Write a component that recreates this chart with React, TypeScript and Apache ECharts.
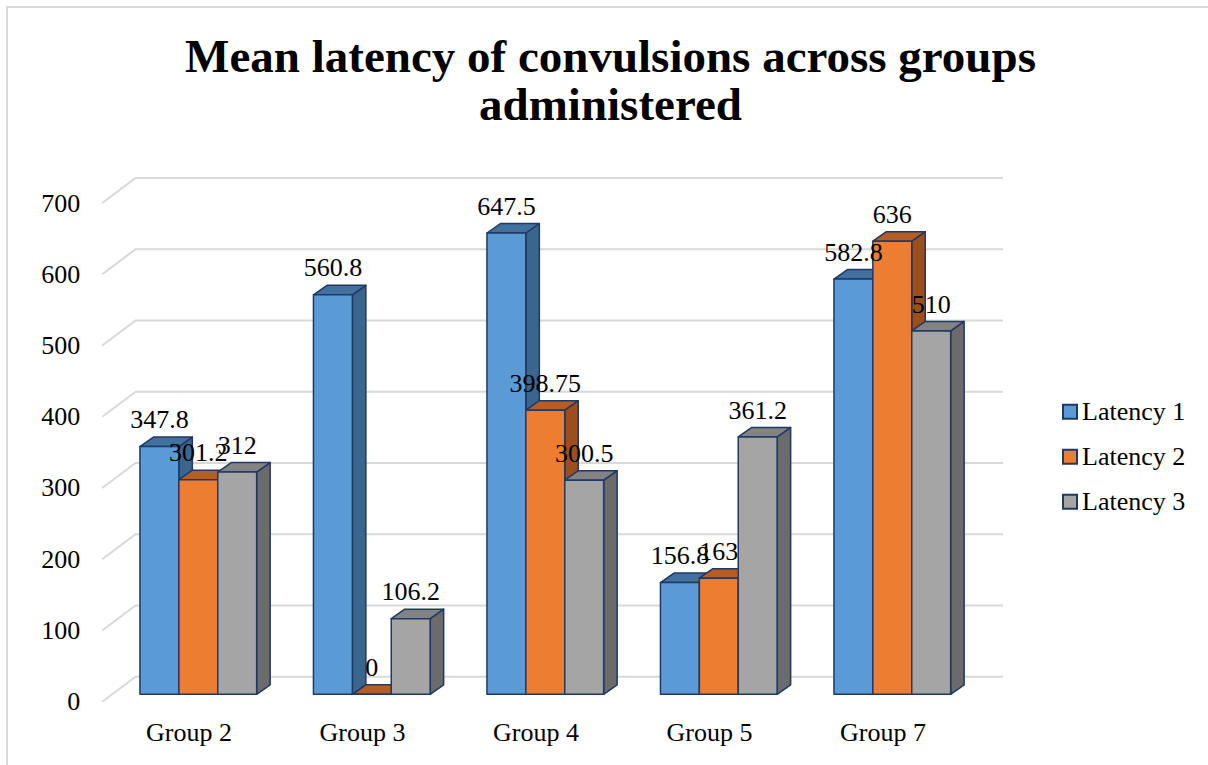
import React, { useEffect, useRef } from "react";
import * as echarts from "echarts";

const categories = ["Group 2", "Group 3", "Group 4", "Group 5", "Group 7"];
const seriesNames = ["Latency 1", "Latency 2", "Latency 3"];
const latency1 = [347.8, 560.8, 647.5, 156.8, 582.8];
const latency2 = [301.2, 0, 398.75, 163, 636];
const latency3 = [312, 106.2, 300.5, 361.2, 510];
const yTicks = [0, 100, 200, 300, 400, 500, 600, 700];

const allValues = [latency1, latency2, latency3];

const frontColors = ["#5B9BD5", "#ED7D31", "#A5A5A5"];
const topColors = ["#41719C", "#B55D25", "#838383"];
const sideColors = ["#3A668E", "#9C4F1C", "#6B6B6B"];
const outline = "#203864";
const FONT = "Liberation Serif";

const SHIFT_X = 9.3;
const SHIFT_Y = -7.4;
const DEPTH_X = 13.5;
const DEPTH_Y = -9.5;
const BAR_FRAC = 38.9 / 173.5;
const FLOOR_X = 33.3;
const FLOOR_Y = -25;

function barGeom(api: any, s: number) {
  const cat = api.value(0);
  const v = api.value(1);
  const base = api.coord([cat, 0]);
  const top = api.coord([cat, v]);
  const band = api.size([1, 0])[0];
  const w = band * BAR_FRAC;
  const x = base[0] - 1.5 * w + SHIFT_X + s * w;
  const yb = base[1] + SHIFT_Y;
  const yt = top[1] + SHIFT_Y;
  return { x, w, yb, yt };
}

function makeBarRender(s: number) {
  return (params: any, api: any) => {
    const { x, w, yb, yt } = barGeom(api, s);
    const strokeStyle = { stroke: outline, lineWidth: 1.5, lineJoin: "round" };
    return {
      type: "group",
      children: [
        {
          type: "polygon",
          shape: {
            points: [
              [x + w, yt],
              [x + w + DEPTH_X, yt + DEPTH_Y],
              [x + w + DEPTH_X, yb + DEPTH_Y],
              [x + w, yb],
            ],
          },
          style: { fill: sideColors[s], ...strokeStyle },
        },
        {
          type: "polygon",
          shape: {
            points: [
              [x, yt],
              [x + DEPTH_X, yt + DEPTH_Y],
              [x + w + DEPTH_X, yt + DEPTH_Y],
              [x + w, yt],
            ],
          },
          style: { fill: topColors[s], ...strokeStyle },
        },
        {
          type: "rect",
          shape: { x, y: yt, width: w, height: Math.max(0, yb - yt) },
          style: { fill: frontColors[s], ...strokeStyle },
        },
      ],
    };
  };
}

export default function App() {
  const ref = useRef<HTMLDivElement>(null);

  useEffect(() => {
    if (!ref.current) return;
    const chart = echarts.init(ref.current, undefined, { renderer: "svg" });

    const barSeries = allValues.map((vals, s) => ({
      name: seriesNames[s],
      type: "custom",
      z: 3 + s,
      itemStyle: { color: frontColors[s], borderColor: outline, borderWidth: 2 },
      encode: { x: 0, y: 1 },
      data: vals.map((v, i) => [i, v]),
      renderItem: makeBarRender(s),
    }));

    const labelData: any[] = [];
    allValues.forEach((vals, s) => vals.forEach((v, i) => labelData.push([i, v, s])));

    const option: any = {
      animation: false,
      backgroundColor: "#fff",
      textStyle: { fontFamily: FONT },
      graphic: [
        {
          type: "rect",
          shape: { x: 7, y: 7, width: 1300, height: 900 },
          style: { fill: "none", stroke: "#d9d9d9", lineWidth: 2 },
          silent: true,
          z: -1,
        },
        {
          type: "text",
          x: 610.5,
          y: 80,
          style: {
            text: "Mean latency of convulsions across groups\nadministered",
            align: "center",
            verticalAlign: "middle",
            fontSize: 47,
            lineHeight: 48,
            fontWeight: "bold",
            fontFamily: FONT,
            fill: "#000",
          },
        },
      ],
      legend: {
        data: seriesNames,
        orient: "vertical",
        left: 1057,
        top: 393.7,
        padding: 5,
        itemWidth: 14,
        itemHeight: 14,
        itemGap: 19,
        icon: "rect",
        textStyle: { fontSize: 26, lineHeight: 26, fontFamily: FONT, color: "#000" },
      },
      grid: { left: 102.25, right: 238.25, top: 203, bottom: 63.3 },
      xAxis: {
        type: "category",
        data: categories,
        axisLine: { show: false },
        axisTick: { show: false },
        axisLabel: { fontSize: 26, fontFamily: FONT, color: "#000", margin: 18 },
      },
      yAxis: {
        type: "value",
        min: 0,
        max: 700,
        interval: 100,
        axisLine: { show: false },
        axisTick: { show: false },
        splitLine: { show: false },
        axisLabel: { fontSize: 26, fontFamily: FONT, color: "#000", margin: 22 },
      },
      series: [
        {
          type: "custom",
          name: "gridlines",
          silent: true,
          z: 1,
          encode: { x: 0, y: 1 },
          data: yTicks.map((t) => [0, t]),
          renderItem: (params: any, api: any) => {
            const cs = params.coordSys;
            const y = api.coord([0, api.value(1)])[1];
            const x0 = cs.x;
            return {
              type: "polyline",
              shape: {
                points: [
                  [x0, y],
                  [x0 + FLOOR_X, y + FLOOR_Y],
                  [x0 + cs.width + FLOOR_X, y + FLOOR_Y],
                ],
              },
              style: { stroke: "#d9d9d9", lineWidth: 2, fill: "none" },
            };
          },
        },
        ...barSeries,
        {
          type: "custom",
          name: "labels",
          silent: true,
          z: 10,
          encode: { x: 0, y: 1 },
          data: labelData,
          renderItem: (params: any, api: any) => {
            const s = api.value(2);
            const { x, w, yt } = barGeom(api, s);
            return {
              type: "text",
              x: x + w / 2,
              y: yt - 26.8,
              style: {
                text: String(api.value(1)),
                align: "center",
                verticalAlign: "middle",
                fontSize: 26,
                fontFamily: FONT,
                fill: "#000",
              },
            };
          },
        },
      ],
    };
    chart.setOption(option);
    return () => chart.dispose();
  }, []);

  return (
    <div
      ref={ref}
      style={{ position: "absolute", left: 0, top: 0, width: 1208, height: 765 }}
    />
  );
}
